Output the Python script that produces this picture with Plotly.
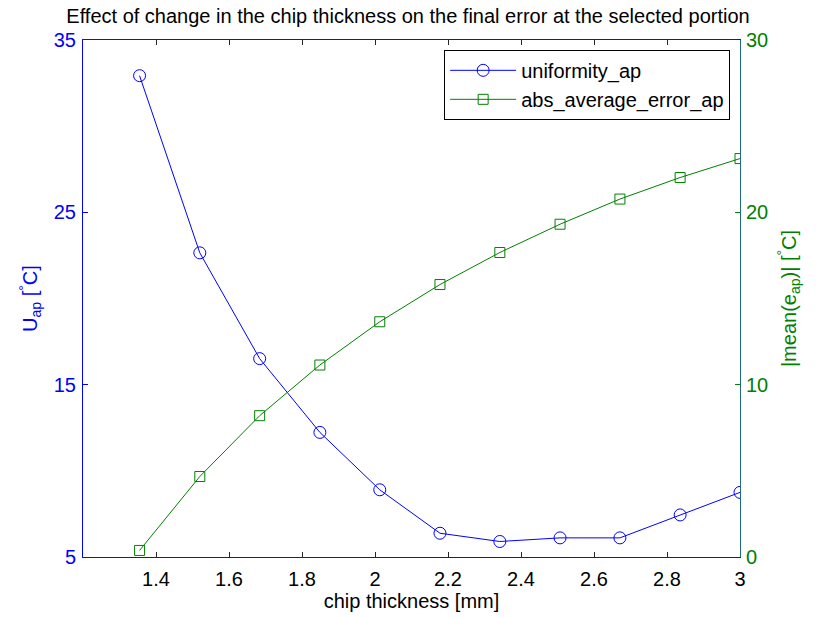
import plotly.graph_objects as go

chip_thickness = [1.355, 1.52, 1.684, 1.849, 2.013, 2.178, 2.342, 2.507, 2.671, 2.836, 3.0]
uniformity_ap = [32.93, 22.65, 16.51, 12.23, 8.90, 6.38, 5.90, 6.11, 6.11, 7.44, 8.75]
abs_average_error_ap = [0.38, 4.67, 8.20, 11.14, 13.65, 15.81, 17.67, 19.31, 20.77, 22.02, 23.12]

x_ticks = [1.4, 1.6, 1.8, 2.0, 2.2, 2.4, 2.6, 2.8, 3.0]
x_tick_labels = ["1.4", "1.6", "1.8", "2", "2.2", "2.4", "2.6", "2.8", "3"]
left_ticks = [5, 15, 25, 35]
right_ticks = [0, 10, 20, 30]

BLUE = "#0000FF"
GREEN = "#008000"
FONT = "Liberation Sans, Arial, sans-serif"
FS = 20

fig = go.Figure()
fig.add_trace(go.Scatter(
    x=chip_thickness, y=uniformity_ap, name="uniformity_ap",
    mode="lines+markers",
    line=dict(color=BLUE, width=1),
    marker=dict(symbol="circle-open", size=12, color=BLUE, line=dict(width=1, color=BLUE)),
    yaxis="y",
))
fig.add_trace(go.Scatter(
    x=chip_thickness, y=abs_average_error_ap, name="abs_average_error_ap",
    mode="lines+markers",
    line=dict(color=GREEN, width=1),
    marker=dict(symbol="square-open", size=10, color=GREEN, line=dict(width=1, color=GREEN)),
    yaxis="y2",
))

fig.update_layout(
    width=816, height=618,
    margin=dict(l=83, r=76, t=40, b=61),
    paper_bgcolor="white", plot_bgcolor="white",
    font=dict(family=FONT, size=FS, color="black"),
    title=dict(text="Effect of change in the chip thickness on the final error at the selected portion",
               x=0.5, xanchor="center", y=0.986, yanchor="top",
               font=dict(family=FONT, size=FS, color="black")),
    xaxis=dict(range=[1.2, 3.0], tickvals=x_ticks, ticktext=x_tick_labels,
               showgrid=False, zeroline=False, showline=True, linecolor="#262626", linewidth=1,
               mirror="ticks", ticks="inside", ticklen=5, tickcolor="#262626",
               tickfont=dict(size=FS, color="black"), ticklabelstandoff=4,
               title=dict(text="chip thickness [mm]", font=dict(size=FS, color="black"), standoff=2)),
    yaxis=dict(range=[5, 35], tickvals=left_ticks, showgrid=False, zeroline=False,
               showline=True, linecolor=BLUE, linewidth=1, ticks="inside", ticklen=5,
               tickcolor=BLUE, tickfont=dict(size=FS, color=BLUE), ticklabelstandoff=2,
               title=dict(text="U<sub>ap</sub> [<sup>°</sup>C]", font=dict(size=FS, color=BLUE), standoff=10)),
    yaxis2=dict(range=[0, 30], tickvals=right_ticks, overlaying="y", side="right",
                showgrid=False, zeroline=False, showline=True, linecolor="#1F6E7E", linewidth=1,
                ticks="inside", ticklen=5, tickcolor=GREEN, tickfont=dict(size=FS, color=GREEN),
                ticklabelstandoff=1,
                title=dict(text="|mean(e<sub>ap</sub>)| [<sup>°</sup>C]", font=dict(size=FS, color=GREEN), standoff=14)),
    legend=dict(x=0.985, xanchor="right", y=0.981, yanchor="top",
                bgcolor="white", bordercolor="black", borderwidth=1, itemwidth=66,
                font=dict(size=FS, color="black"), tracegroupgap=0),
    showlegend=True,
)

fig.write_html("out.html")
